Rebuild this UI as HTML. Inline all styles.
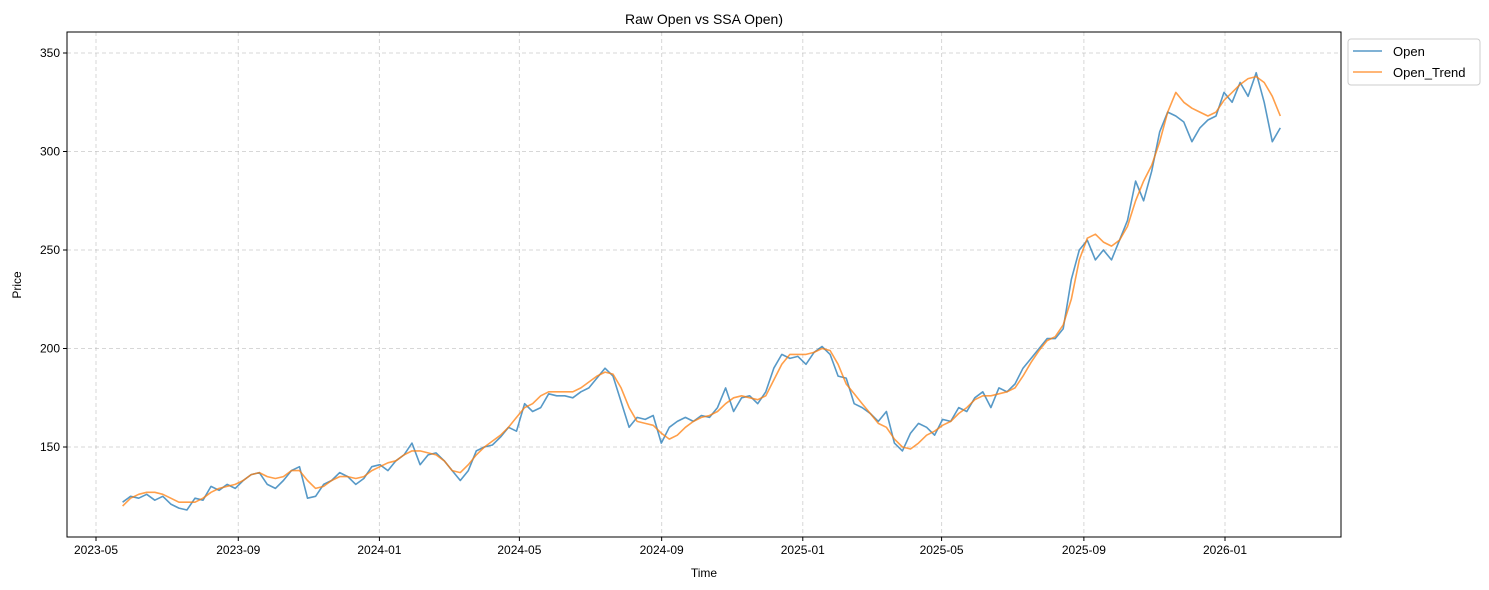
<!DOCTYPE html>
<html><head><meta charset="utf-8"><style>
html,body{margin:0;padding:0;background:#fff;}
svg{display:block;font-family:"Liberation Sans","DejaVu Sans",sans-serif;}
</style></head><body>
<svg id="chart" width="1489" height="590"></svg>
<script>
const startDate = "2023-05-24";
const stepDays = 6.95;
const openValues = [122,125,124,126,123,125,121,119,118,124,123,
130,128,131,129,133,136,137,131,129,133,138,140,124,125,131,
133,137,135,131,134,140,141,138,143,146,152,141,146,147,143,
138,133,138,148,150,151,155,160,158,172,168,170,177,176,176,
175,178,180,185,190,186,173,160,165,164,166,152,160,163,165,
163,166,165,170,180,168,175,176,172,178,190,197,195,196,192,
198,201,197,186,185,172,170,167,163,168,152,148,157,162,160,
156,164,163,170,168,175,178,170,180,178,182,190,195,200,205,
205,210,235,250,255,245,250,245,255,265,285,275,290,310,320,
318,315,305,312,316,318,330,325,335,328,340,325,305,312];
const trendValues = [120,124,126,127,127,126,124,122,122,122,124,
127,129,130,131,133,136,137,135,134,135,138,138,133,129,130,
133,135,135,134,135,138,140,142,143,146,148,148,147,146,143,
138,137,141,146,150,153,156,160,165,170,172,176,178,178,178,
178,180,183,186,188,187,180,170,163,162,161,157,154,156,160,
163,165,166,168,172,175,176,175,174,176,184,192,197,197,197,
198,200,199,192,182,177,172,167,162,160,154,150,149,152,156,
158,161,163,167,170,174,176,176,177,178,180,186,193,199,204,
206,212,225,245,256,258,254,252,255,262,275,285,293,305,320,
330,325,322,320,318,320,326,330,334,337,338,335,328,318];
const yTicks = [150,200,250,300,350];
const xTickLabels = ["2023-05","2023-09","2024-01","2024-05","2024-09","2025-01","2025-05","2025-09","2026-01"];

const NS="http://www.w3.org/2000/svg";
const svg=document.getElementById('chart');
const L=67,R=1341,T=32,B=537;
const t0=Date.parse("2023-05-01"), tPx0=96;
const pxPerDay=(1225-96)/(Date.parse("2026-01-01")-t0)*86400000;
function xs(ms){return tPx0+(ms-t0)/86400000*pxPerDay;}
function ys(v){return 53+(350-v)*(447-53)/200;}
function el(tag,attrs,parent){const e=document.createElementNS(NS,tag);for(const k in attrs)e.setAttribute(k,attrs[k]);(parent||svg).appendChild(e);return e;}

yTicks.forEach(v=>{
  const y=ys(v);
  const g=el('line',{x1:L,x2:R,y1:y,y2:y,stroke:'#b0b0b0','stroke-opacity':0.5,'stroke-dasharray':'4,3'});
  
  
  el('line',{x1:L-4,x2:L,y1:y,y2:y,stroke:'#000'});
  const t=el('text',{x:L-7,y:y+4,'text-anchor':'end','font-size':12});
  t.textContent=v;
  
  
});
xTickLabels.forEach(s=>{
  const x=xs(Date.parse(s+"-01"));
  const g=el('line',{x1:x,x2:x,y1:T,y2:B,stroke:'#b0b0b0','stroke-opacity':0.5,'stroke-dasharray':'4,3'});
  
  
  el('line',{x1:x,x2:x,y1:B,y2:B+4,stroke:'#000'});
  const t=el('text',{x:x,y:B+17,'text-anchor':'middle','font-size':12});
  t.textContent=s;
  
  
});

function series(vals,color,name){
  const s0=Date.parse(startDate);
  const d=vals.map((v,i)=>(i?'L':'M')+xs(s0+i*stepDays*86400000).toFixed(1)+','+ys(v).toFixed(1)).join(' ');
  const p=el('path',{d:d,fill:'none',stroke:color,'stroke-width':1.6,'stroke-opacity':0.75,'stroke-linejoin':'round'});
  
  
}
series(openValues,'#1f77b4','open-line');
series(trendValues,'#ff7f0e','open-trend-line');

const frame=el('rect',{x:L,y:T,width:R-L,height:B-T,fill:'none',stroke:'#000','stroke-width':1});



const title=el('text',{x:(L+R)/2,y:24,'text-anchor':'middle','font-size':14});
title.textContent='Raw Open vs SSA Open)';


const xt=el('text',{x:(L+R)/2,y:577,'text-anchor':'middle','font-size':12});
xt.textContent='Time';


const yt=el('text',{x:21,y:285,'text-anchor':'middle','font-size':12,transform:'rotate(-90 21 285)'});
yt.textContent='Price';



const lg=el('g',{});


el('rect',{x:1348,y:39,width:132,height:46,rx:3,fill:'#fff',stroke:'#ccc'},lg);
[['Open','#1f77b4',51],['Open_Trend','#ff7f0e',72]].forEach(([n,c,y])=>{
  el('line',{x1:1353,x2:1382,y1:y,y2:y,stroke:c,'stroke-width':1.6,'stroke-opacity':0.75},lg);
  const t=el('text',{x:1393,y:y+5,'font-size':13},lg);
  t.textContent=n;
  
  
});
</script>
</body></html>
